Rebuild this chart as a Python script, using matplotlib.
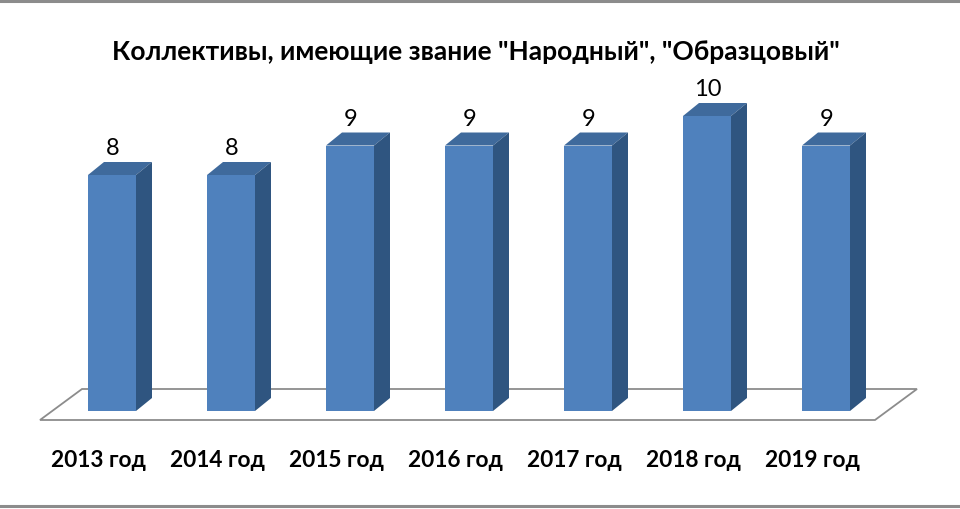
import matplotlib
matplotlib.use('Agg')
import matplotlib.pyplot as plt
from matplotlib.patches import Polygon
import numpy as np

plt.rcParams['font.family'] = ['Lato', 'DejaVu Sans']

years = ['2013 год', '2014 год', '2015 год', '2016 год', '2017 год', '2018 год', '2019 год']
counts = [8, 8, 9, 9, 9, 10, 9]
title = 'Коллективы, имеющие звание "Народный", "Образцовый"'

front_c = '#4F81BD'
top_c = '#3F6A9C'
side_c = '#2F5580'

W, H = 960, 510
fig = plt.figure(figsize=(W / 100, H / 100), dpi=100)
ax = fig.add_axes([0, 0, 1, 1])

# pixel scale: 119 px per category, 29.5 px per unit, baseline 412 px from top
px_x = 119.0
px_y = 29.5
x0_px = 112
base_px = 412
ax.set_xlim(-x0_px / px_x, (W - x0_px) / px_x)
ax.set_ylim(-(H - base_px) / px_y, base_px / px_y)
ax.axis('off')

# floor
fdx, fdy = 42 / px_x, 31 / px_y
fl = -72 / px_x
fr = 763 / px_x
fy = -9 / px_y
floor = Polygon([(fl, fy), (fl + fdx, fy + fdy), (fr + fdx, fy + fdy), (fr, fy)],
                closed=True, facecolor='white', edgecolor='#8c8c8c', lw=1.3, zorder=1)
ax.add_patch(floor)

hw = 24 / px_x
dx, dy = 16 / px_x, 13 / px_y
for i, v in enumerate(counts):
    l, r = i - hw, i + hw
    ax.add_patch(Polygon([(l, 0), (r, 0), (r, v), (l, v)], closed=True,
                         facecolor=front_c, edgecolor='none', zorder=3))
    ax.add_patch(Polygon([(l, v), (r, v), (r + dx, v + dy), (l + dx, v + dy)], closed=True,
                         facecolor=top_c, edgecolor='none', zorder=3))
    ax.add_patch(Polygon([(r, 0), (r + dx, dy), (r + dx, v + dy), (r, v)], closed=True,
                         facecolor=side_c, edgecolor='none', zorder=3))
    ax.text(i + 1 / px_x, v + dy + 14 / px_y, str(v), ha='center', va='center',
            fontsize=17, color='black', zorder=4)
    ax.text(i - 14 / px_x, -49 / px_y, years[i], ha='center', va='center',
            fontsize=16.3, fontweight='bold', color='black')

ax.text((476 - x0_px) / px_x, (base_px - 52) / px_y, title, ha='center', va='center',
        fontsize=19, fontweight='bold', color='black')

# chart border lines (top and bottom)
ax.axhline((base_px - 2) / px_y, color='#8c8c8c', lw=2.2)
ax.axhline((base_px - 507) / px_y, color='#8c8c8c', lw=2.2)

fig.savefig('out.png', dpi=100, facecolor='white')
